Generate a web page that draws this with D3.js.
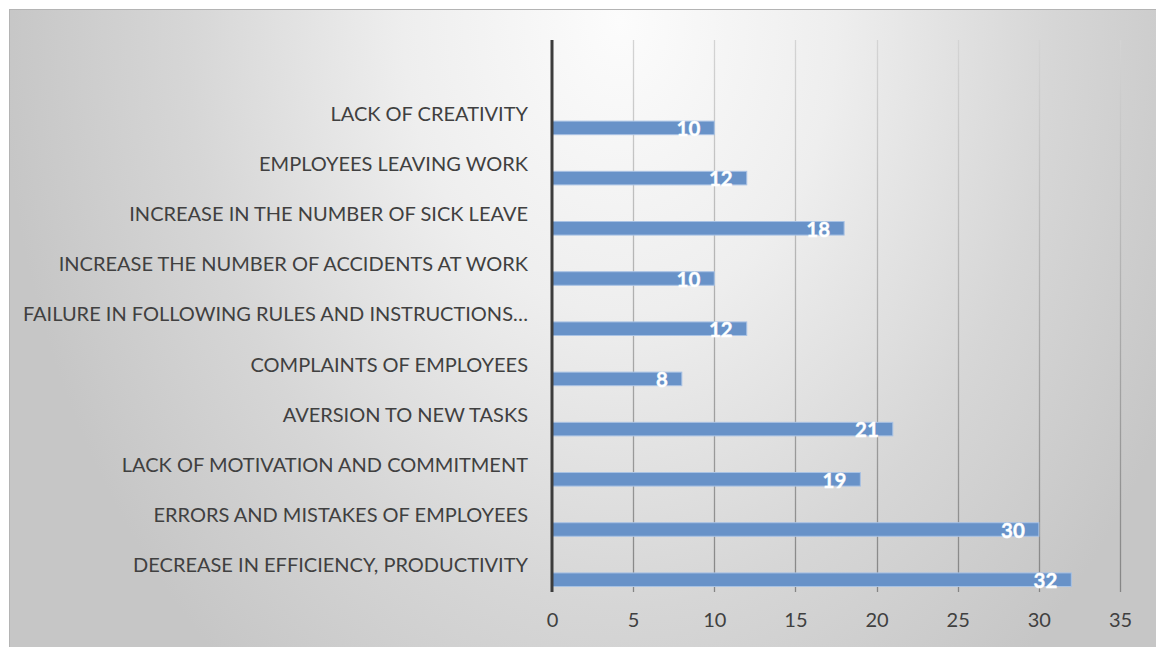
<!DOCTYPE html>
<html>
<head>
<meta charset="utf-8">
<script src="https://cdn.jsdelivr.net/npm/d3@7"></script>
<style>
  html, body { margin: 0; padding: 0; background: #ffffff; }
  svg { display: block; }
</style>
</head>
<body>
<svg id="chart" width="1156" height="647"></svg>
<script>
// Categories listed top to bottom, with their counts
const categories = [
  "LACK OF CREATIVITY",
  "EMPLOYEES LEAVING WORK",
  "INCREASE IN THE NUMBER OF SICK LEAVE",
  "INCREASE THE NUMBER OF ACCIDENTS AT WORK",
  "FAILURE IN FOLLOWING RULES AND INSTRUCTIONS…",
  "COMPLAINTS OF EMPLOYEES",
  "AVERSION TO NEW TASKS",
  "LACK OF MOTIVATION AND COMMITMENT",
  "ERRORS AND MISTAKES OF EMPLOYEES",
  "DECREASE IN EFFICIENCY, PRODUCTIVITY"
];
const values = [10, 12, 18, 10, 12, 8, 21, 19, 30, 32];
const xTicks = [0, 5, 10, 15, 20, 25, 30, 35];

const data = categories.map((c, i) => ({ category: c, value: values[i] }));

const W = 1156, H = 647;
const svg = d3.select("#chart");
const defs = svg.append("defs");

// Soft radial background fill
const bg = defs.append("radialGradient")
  .attr("id", "bgGrad")
  .attr("gradientUnits", "userSpaceOnUse")
  .attr("cx", 620).attr("cy", 20).attr("r", 620)
  .attr("gradientTransform", "translate(620,20) scale(1,1.35) translate(-620,-20)");
[["0", "#fcfcfc"], ["0.35", "#eeeeee"], ["0.7", "#d6d6d6"], ["1", "#c6c6c6"]]
  .forEach(([o, c]) => bg.append("stop").attr("offset", o).attr("stop-color", c));

// Gridline stroke darkens toward the bottom
const gg = defs.append("linearGradient")
  .attr("id", "gridGrad")
  .attr("gradientUnits", "userSpaceOnUse")
  .attr("x1", 0).attr("y1", 40).attr("x2", 0).attr("y2", 592);
gg.append("stop").attr("offset", "0").attr("stop-color", "#d4d4d4");
gg.append("stop").attr("offset", "1").attr("stop-color", "#858585");

svg.append("rect")
  .attr("x", 9.5).attr("y", 9.5)
  .attr("width", W).attr("height", H)
  .attr("fill", "url(#bgGrad)")
  .attr("stroke", "#b4b4b4").attr("stroke-width", 1);

const x = d3.scaleLinear().domain([0, 35]).range([552, 1120]);
const y = d3.scaleBand().domain(categories).range([90, 592]);
const step = y.step();

const plotTop = 40, plotBottom = 592;

// Vertical gridlines
svg.append("g")
  .selectAll("line")
  .data(xTicks.filter(t => t > 0))
  .join("line")
  .attr("x1", d => Math.round(x(d)) + 0.5)
  .attr("x2", d => Math.round(x(d)) + 0.5)
  .attr("y1", plotTop).attr("y2", plotBottom)
  .attr("stroke", "url(#gridGrad)")
  .attr("stroke-width", 1.3);

// Bars
const barY = d => y(d.category) + step * 0.62;
const barH = step * 0.27;

svg.append("g")
  .selectAll("rect")
  .data(data)
  .join("rect")
  .attr("x", x(0))
  .attr("y", barY)
  .attr("width", d => x(d.value) - x(0))
  .attr("height", barH)
  .attr("fill", "#6892c8")
  .attr("stroke", "#a9c2e4")
  .attr("stroke-width", 1);

// Value labels
svg.append("g")
  .selectAll("text")
  .data(data)
  .join("text")
  .attr("x", d => x(d.value) - 14)
  .attr("y", d => barY(d) + barH + 1.5)
  .attr("text-anchor", "end")
  .attr("font-family", "Lato, 'Open Sans', sans-serif")
  .attr("font-weight", "bold")
  .attr("font-size", 20.5)
  .attr("fill", "#ffffff")
  .attr("stroke", "#ffffff")
  .attr("stroke-width", 0.4)
  .text(d => d.value);

// Category axis line
svg.append("line")
  .attr("x1", x(0)).attr("x2", x(0))
  .attr("y1", plotTop).attr("y2", plotBottom)
  .attr("stroke", "#3c3c3c")
  .attr("stroke-width", 3);

// Category labels
svg.append("g")
  .selectAll("text")
  .data(data)
  .join("text")
  .attr("x", 528)
  .attr("y", d => barY(d) + barH / 2 - 14.5)
  .attr("dy", "0.36em")
  .attr("text-anchor", "end")
  .attr("font-family", "Lato, 'Open Sans', sans-serif")
  .attr("font-size", 20)
  .attr("fill", "#404040")
  .text(d => d.category);

// Value axis tick labels
const xAxis = d3.axisBottom(x).tickValues(xTicks).tickSize(0).tickPadding(0);
const gx = svg.append("g")
  .attr("transform", `translate(0, 620)`)
  .call(xAxis);
gx.select(".domain").remove();
gx.selectAll("text")
  .attr("dy", "0.36em")
  .attr("font-family", "Lato, 'Open Sans', sans-serif")
  .attr("font-size", 20)
  .attr("fill", "#404040");
</script>
</body>
</html>
